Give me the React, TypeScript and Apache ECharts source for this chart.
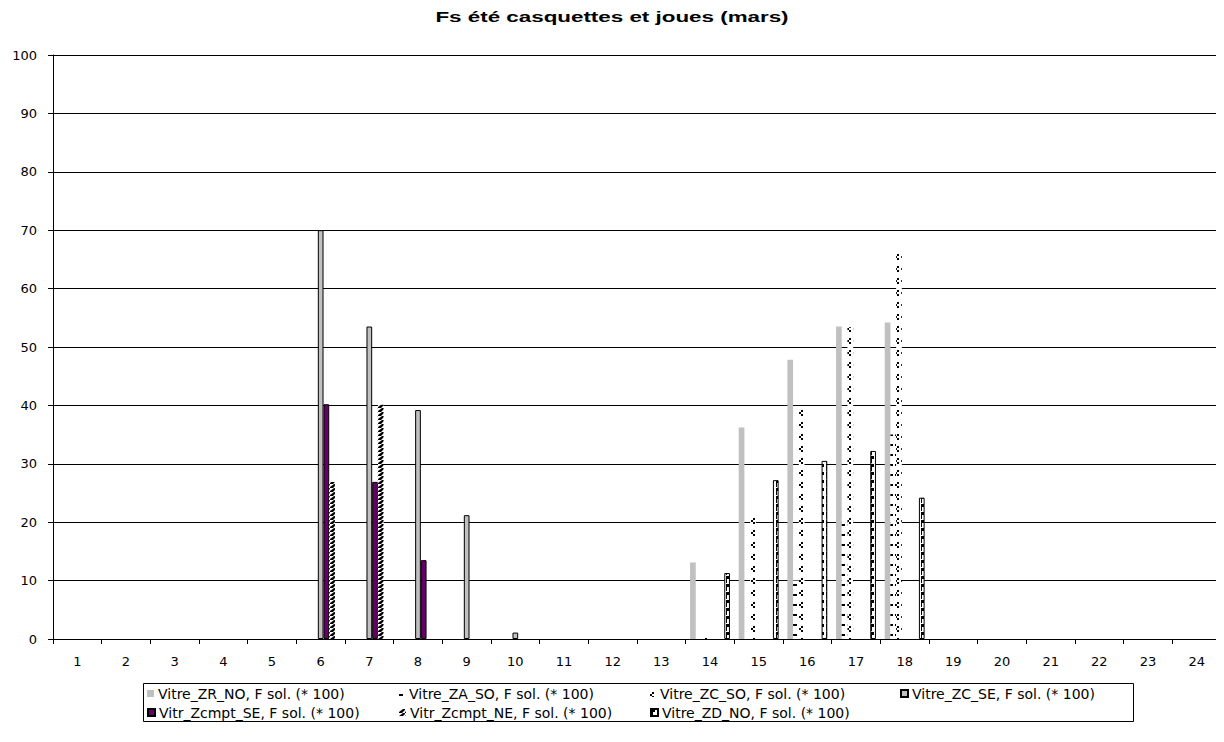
import React, { useEffect, useRef } from "react";
import * as echarts from "echarts";

const hours = ["1","2","3","4","5","6","7","8","9","10","11","12","13","14","15","16","17","18","19","20","21","22","23","24"];
const seriesNames = [
  "Vitre_ZR_NO, F sol. (* 100)",
  "Vitre_ZA_SO, F sol. (* 100)",
  "Vitre_ZC_SO, F sol. (* 100)",
  "Vitre_ZC_SE, F sol. (* 100)",
  "Vitr_Zcmpt_SE, F sol. (* 100)",
  "Vitr_Zcmpt_NE, F sol. (* 100)",
  "Vitre_ZD_NO, F sol. (* 100)",
];
const zrNO = [0,0,0,0,0,0,0,0,0,0,0,0,0,13.1,36.2,47.8,53.5,54.2,0,0,0,0,0,0];
const zaSO = [0,0,0,0,0,0,0,0,0,0,0,0,0,0,0,10,20.7,35,0,0,0,0,0,0];
const zcSO = [0,0,0,0,0,0,0,0,0,0,0,0,0,1,20.9,39.2,53.4,66,0,0,0,0,0,0];
const zcSE = [0,0,0,0,0,70,53.5,39.2,21.2,1.1,0,0,0,0,0,0,0,0,0,0,0,0,0,0];
const zcmptSE = [0,0,0,0,0,40.2,26.9,13.5,0,0,0,0,0,0,0,0,0,0,0,0,0,0,0,0];
const zcmptNE = [0,0,0,0,0,26.9,40.1,0,0,0,0,0,0,0,0,0,0,0,0,0,0,0,0,0];
const zdNO = [0,0,0,0,0,0,0,0,0,0,0,0,0,11.3,27.2,30.5,32.2,24.2,0,0,0,0,0,0];
const yTicks = [0,10,20,30,40,50,60,70,80,90,100];
const chartTitle = "Fs été casquettes et joues (mars)";

function makeTile(w: number, h: number, draw: (c: CanvasRenderingContext2D) => void) {
  const cv = document.createElement("canvas");
  cv.width = w;
  cv.height = h;
  const ctx = cv.getContext("2d")!;
  ctx.fillStyle = "#ffffff";
  ctx.fillRect(0, 0, w, h);
  ctx.fillStyle = "#000000";
  ctx.strokeStyle = "#000000";
  draw(ctx);
  return { image: cv, repeat: "repeat" } as any;
}

export default function App() {
  const ref = useRef<HTMLDivElement>(null);
  useEffect(() => {
    if (!ref.current) return;
    const chart = echarts.init(ref.current, undefined, { renderer: "svg" });
    const patDash = makeTile(6, 10, (c) => { c.fillRect(1, 4, 4, 2); });
    const patChevron = makeTile(6, 12, (c) => {
      c.fillRect(3, 2, 2, 2); c.fillRect(1, 4, 2, 2); c.fillRect(3, 6, 2, 2);
    });
    const patZig = makeTile(6, 4, (c) => {
      c.beginPath();
      c.moveTo(0, 4); c.lineTo(3, 4); c.lineTo(6, 1); c.lineTo(6, 0); c.lineTo(4, 0); c.lineTo(0, 3);
      c.closePath();
      c.fill();
    });
    const patZD = makeTile(5, 8, (c) => {
      c.fillRect(1, 0, 3, 3); c.fillRect(1, 3, 1, 4);
    });
    const data = [zrNO, zaSO, zcSO, zcSE, zcmptSE, zcmptNE, zdNO];
    const styles: any[] = [
      { color: "#c0c0c0" },
      { color: patDash },
      { color: patChevron },
      { color: "#c0c0c0", borderColor: "#000", borderWidth: 1 },
      { color: "#660066", borderColor: "#000", borderWidth: 1 },
      { color: patZig },
      { color: patZD, borderColor: "#000", borderWidth: 1 },
    ];
    const font = "'DejaVu Sans', sans-serif";
    const legendBase = {
      left: 147,
      orient: "horizontal",
      padding: 0,
      itemGap: 28,
      itemWidth: 7,
      itemHeight: 7,
      icon: "rect",
      formatter: (n: string) => "{a|" + n + "}",
      textStyle: {
        color: "#000",
        fontFamily: font,
        fontSize: 14,
        padding: [0, 0, 0, -1],
        rich: { a: { width: 212, height: 15, lineHeight: 15, fontSize: 14, fontFamily: font, color: "#000" } },
      },
    };
    chart.setOption({
      animation: false,
      backgroundColor: "#ffffff",
      graphic: [
        {
          type: "text",
          x: 612,
          y: 17,
          scaleX: 1.6,
          style: {
            text: chartTitle,
            fontSize: 14,
            fontWeight: "bold",
            fontFamily: "'Liberation Sans', Arial, sans-serif",
            fill: "#000",
            align: "center",
            verticalAlign: "middle",
          },
        },
        {
          type: "rect",
          shape: { x: 143.5, y: 683.5, width: 990, height: 38 },
          style: { fill: "none", stroke: "#000", lineWidth: 1 },
        },
      ],
      grid: { left: 53, right: 3, top: 55, bottom: 103, containLabel: false },
      legend: [
        { ...legendBase, top: 686, data: seriesNames.slice(0, 4) },
        { ...legendBase, top: 705, data: seriesNames.slice(4) },
      ],
      xAxis: {
        type: "category",
        data: hours,
        axisLine: { lineStyle: { color: "#000", width: 1 } },
        axisTick: { show: true, length: 5, lineStyle: { color: "#000" } },
        axisLabel: { color: "#000", fontSize: 13, fontFamily: font, margin: 16 },
      },
      yAxis: {
        type: "value",
        min: 0,
        max: yTicks[yTicks.length - 1],
        interval: yTicks[1] - yTicks[0],
        axisLine: { show: true, lineStyle: { color: "#000", width: 1 } },
        axisTick: { show: true, length: 5, lineStyle: { color: "#000" } },
        axisLabel: { color: "#000", fontSize: 13, fontFamily: font, margin: 16 },
        splitLine: { show: true, lineStyle: { color: "#000", width: 1 } },
      },
      series: seriesNames.map((n, i) => ({
        name: n,
        type: "bar",
        data: data[i].map((v) => (v === 0 ? null : v)),
        barGap: "0%",
        barCategoryGap: "18%",
        itemStyle: styles[i],
        emphasis: { disabled: true },
      })),
    });
    return () => chart.dispose();
  }, []);
  return <div ref={ref} style={{ width: 1224, height: 742, margin: -8 }} />;
}
